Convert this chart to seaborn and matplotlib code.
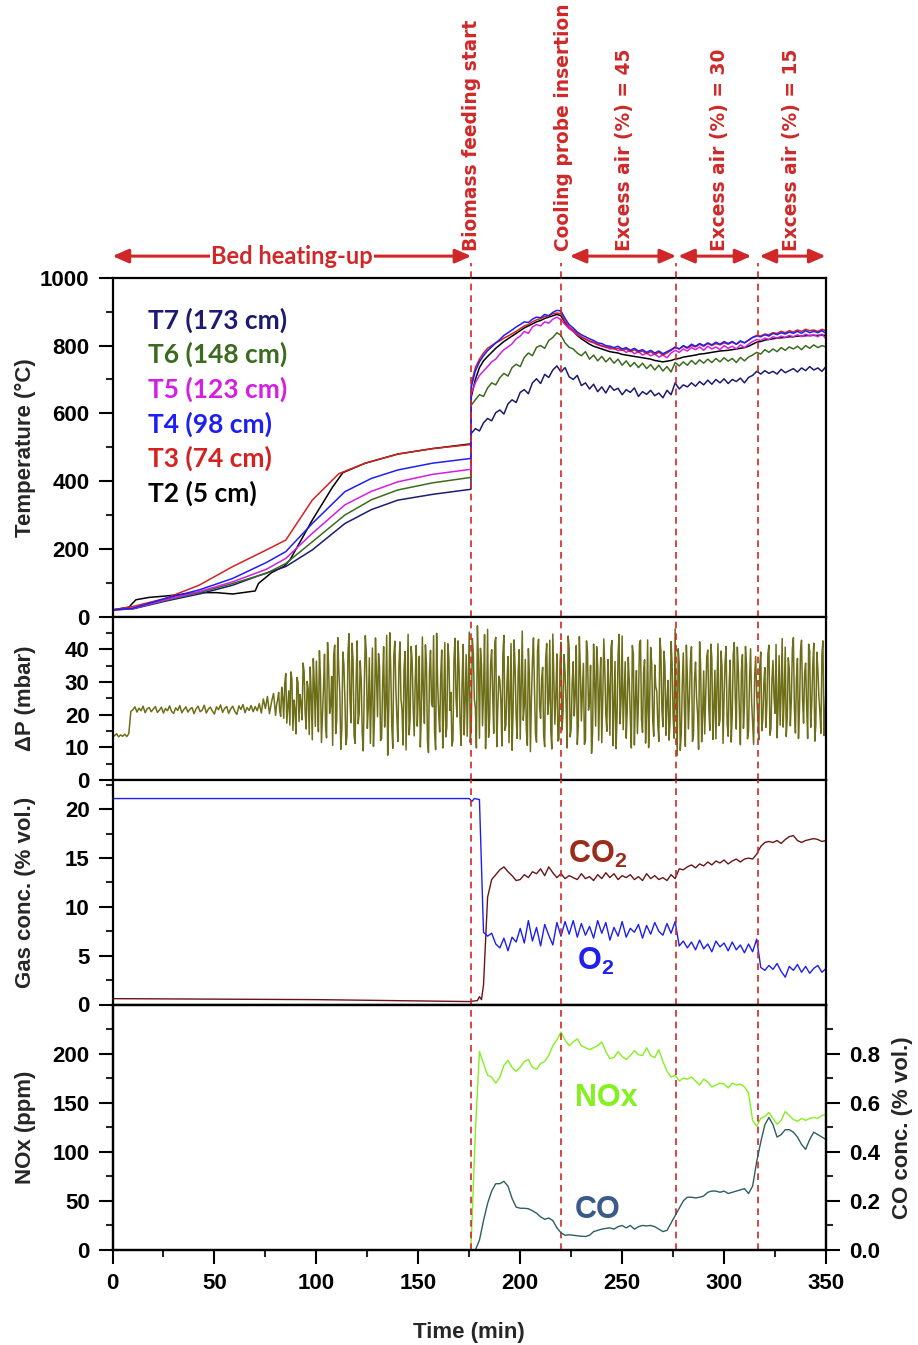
import numpy as np
import pandas as pd
import matplotlib
matplotlib.use("Agg")
import matplotlib.pyplot as plt
import matplotlib.transforms as mtransforms
import seaborn as sns

# ---------------- data ----------------
# temperatures before biomass feeding (own sample times, min)
t2_pre_t = [0, 8, 11.5, 18, 26, 42, 51, 59, 70, 71.6, 78, 84, 87, 98, 108, 113, 124, 140, 157, 175.8]
t2_pre = [20, 28, 50, 57, 61, 71, 71, 67, 76, 98, 130, 148, 167, 285, 383, 425, 453, 480, 496, 510]
t3_pre_t = [0, 10, 26, 42.5, 59, 75.5, 85, 98, 111, 124, 140, 157, 175.8]
t3_pre = [20, 30, 54, 93, 148, 197, 226, 344, 422, 453, 480, 496, 508]
t4_pre_t = [0, 10, 26, 42.5, 59, 75.5, 85, 98, 114, 127, 140, 157, 175.8]
t4_pre = [20, 25, 54, 79, 113, 160, 192, 275, 369, 408, 433, 453, 467]
t5_pre_t = [0, 10, 26, 42.5, 59, 75.5, 85, 98, 114, 127, 140, 157, 175.8]
t5_pre = [20, 24, 50, 74, 103, 140, 172, 246, 330, 370, 398, 420, 435]
t6_pre_t = [0, 10, 26, 42.5, 59, 75.5, 85, 98, 114, 127, 140, 157, 175.8]
t6_pre = [20, 24, 48, 71, 98, 128, 157, 221, 300, 345, 374, 395, 411]
t7_pre_t = [0, 10, 26, 42.5, 59, 72.6, 85, 98, 114, 127, 140, 157, 175.8]
t7_pre = [20, 23, 46, 67, 93, 123, 148, 197, 275, 316, 344, 361, 376]

# temperatures after feeding start, every 2 min from 176 min
post_t0 = 176
t7_post = [541, 555, 548, 572, 585, 578, 602, 610, 598, 628, 640, 632, 662, 670, 658, 690, 702, 688, 715, 706,
           728, 740, 722, 735, 708, 700, 712, 682, 690, 672, 686, 664, 678, 660, 682, 668, 674, 655, 670, 662,
           675, 650, 664, 656, 668, 652, 660, 646, 668, 655, 690, 672, 684, 678, 690, 680, 694, 684, 698, 686,
           700, 690, 702, 688, 700, 694, 704, 690, 706, 712, 724, 716, 726, 718, 724, 716, 730, 720, 726, 732,
           722, 734, 726, 738, 728, 734, 724, 738]
t6_post = [624, 640, 655, 650, 675, 690, 684, 705, 718, 710, 735, 745, 738, 765, 778, 770, 795, 800, 792, 815,
           824, 838, 830, 808, 795, 790, 778, 770, 782, 760, 772, 755, 768, 752, 764, 748, 760, 742, 755, 738,
           750, 735, 748, 732, 744, 728, 742, 725, 738, 722, 750, 740, 752, 742, 756, 745, 758, 748, 760, 750,
           762, 752, 764, 754, 762, 750, 765, 755, 766, 772, 780, 775, 788, 780, 790, 782, 794, 786, 796, 790,
           798, 788, 800, 792, 802, 794, 800, 796]
t5_post = [659, 690, 712, 725, 738, 752, 760, 775, 788, 796, 805, 820, 828, 842, 836, 855, 862, 858, 870, 866,
           878, 884, 876, 862, 850, 842, 832, 825, 818, 812, 808, 802, 798, 795, 790, 792, 785, 788, 780, 786,
           776, 782, 772, 778, 770, 775, 766, 772, 764, 778, 786, 780, 790, 784, 794, 788, 796, 786, 798, 790,
           796, 788, 800, 792, 798, 790, 802, 794, 804, 812, 818, 815, 822, 818, 826, 822, 828, 824, 830, 826,
           832, 826, 834, 828, 832, 826, 834, 820]
t4_post = [678, 725, 752, 770, 785, 796, 808, 818, 830, 838, 846, 855, 862, 870, 868, 878, 884, 882, 892, 888,
           898, 904, 902, 880, 862, 852, 840, 832, 826, 820, 815, 808, 806, 800, 798, 794, 798, 790, 794, 786,
           792, 784, 788, 780, 786, 778, 784, 776, 782, 788, 796, 790, 800, 794, 804, 798, 806, 800, 808, 802,
           810, 804, 812, 806, 812, 804, 814, 808, 816, 824, 828, 826, 832, 828, 836, 832, 838, 834, 840, 836,
           842, 836, 844, 838, 842, 838, 844, 836]
t3_post = [688, 735, 760, 778, 792, 800, 808, 814, 822, 828, 835, 842, 850, 858, 862, 870, 876, 880, 886, 888,
           894, 896, 894, 872, 855, 846, 835, 826, 820, 814, 810, 804, 800, 796, 794, 790, 792, 786, 790, 782,
           788, 780, 784, 776, 782, 774, 780, 772, 778, 786, 794, 790, 798, 792, 800, 796, 804, 798, 806, 800,
           806, 802, 808, 804, 810, 804, 812, 808, 816, 824, 830, 828, 834, 832, 838, 836, 842, 838, 844, 840,
           846, 842, 848, 844, 846, 842, 848, 844]
t2_post = [649, 700, 735, 755, 768, 780, 792, 802, 812, 820, 828, 836, 844, 852, 858, 864, 870, 874, 880, 884,
           888, 892, 888, 868, 852, 842, 830, 820, 812, 804, 798, 794, 790, 786, 782, 780, 778, 774, 772, 770,
           768, 766, 764, 762, 760, 756, 754, 752, 754, 756, 760, 762, 766, 768, 770, 772, 775, 776, 778, 780,
           782, 784, 785, 786, 788, 790, 792, 794, 798, 804, 810, 812, 816, 818, 820, 822, 823, 824, 826, 826,
           828, 828, 829, 830, 830, 830, 831, 830]

# pressure drop, one reading per minute from 0 min
dp_vals = [14, 13.5, 14.2, 13.2, 13.8, 13.4, 14, 13.3, 14.2, 21,
           21.5, 22.4, 20.8, 22, 21.2, 22.6, 20.6, 21.8, 22.2, 20.9,
           21.7, 22.5, 20.7, 21.4, 22.3, 20.5, 21.9, 21.2, 22.7, 21,
           20.4, 22.1, 21.3, 22.8, 20.6, 21.6, 22.4, 20.8, 21.7, 22.2,
           20.3, 21.8, 22.6, 20.9, 21.4, 22.9, 20.5, 21.7, 22.3, 21.1,
           20.2, 22.4, 21.5, 23, 20.7, 21.9, 22.5, 20.4, 21.8, 22.6,
           21, 20.1, 22.7, 21.6, 23.1, 20.6, 22.2, 21.3, 22.8, 20.9,
           22.5, 21.2, 23.4, 20.5, 24.8, 21.9, 25.6, 20.3, 23.9, 26.5,
           19.8, 24.6, 21.2, 28.4, 18.9, 32.6, 22.4, 16.8, 30.9, 24.5,
           14.1, 29.8, 26.2, 18.4, 33.2, 15.6, 27.8, 34.6, 12.3, 28.9,
           36.4, 14.8, 31.2, 19.6, 38.5, 12.9, 35.1, 22.8, 10.6, 41.3,
           18.2, 33.7, 9.4, 39.2, 24.6, 13.3, 44.8, 17.5, 36.9, 11.2,
           42.6, 20.3, 30.8, 8.9, 44.2, 15.8, 37.4, 26.1, 10.3, 43.5,
           19.4, 34.6, 12.7, 40.8, 23.5, 7.6, 45.1, 16.4, 38.2, 27.9,
           11.8, 42.3, 21.6, 33.9, 9.2, 44.6, 18.7, 36.5, 13.5, 41.2,
           25.8, 10.1, 43.8, 17.3, 35.6, 8.4, 39.7, 22.4, 14.6, 44.9,
           20.5, 31.8, 9.8, 42.1, 16.2, 37.3, 26.8, 12.1, 43.4, 19.3,
           34.7, 10.6, 41.5, 24.2, 13.4, 45.3, 15.9, 38.8, 22.1, 47.2,
           12.8, 35.4, 27.3, 9.6, 46.1, 18.5, 39.9, 14.3, 43.7, 21.8,
           30.6, 10.4, 44.3, 16.7, 37.8, 25.4, 9.1, 42.9, 19.6, 33.2,
           12.5, 45.6, 22.7, 15.3, 40.2, 8.7, 36.4, 27.8, 11.6, 43.1,
           18.9, 34.5, 10.2, 41.8, 24.3, 14.8, 44.7, 17.1, 38.6, 12.4,
           42.2, 20.6, 32.9, 9.8, 40.5, 15.7, 36.2, 26.4, 10.9, 43.9,
           18.1, 35.7, 12.3, 39.4, 23.6, 8.2, 41.6, 16.5, 34.8, 28.7,
           11.4, 43.2, 19.8, 36.9, 13.7, 42.7, 22.5, 9.6, 38.3, 17.2,
           44.1, 25.9, 12.8, 37.6, 19.3, 41.2, 10.7, 33.5, 24.1, 42.8,
           14.6, 36.8, 21.3, 9.9, 40.6, 18.4, 35.2, 27.1, 11.8, 39.7,
           16.3, 34.9, 23.8, 12.2, 42.4, 19.5, 46.3, 7.5, 35.6, 14.1,
           38.9, 10.3, 31.6, 24.7, 40.8, 13.9, 36.1, 20.2, 42.3, 11.7,
           33.4, 26.5, 39.8, 15.2, 37.3, 21.9, 12.6, 41.7, 18.3, 34.5,
           25.2, 40.9, 13.4, 36.7, 19.9, 42.1, 15.6, 33.8, 10.8, 38.4,
           22.6, 35.3, 14.9, 40.2, 17.7, 31.5, 26.3, 12.3, 39.2, 18.6,
           34.4, 23.1, 41.3, 15.8, 36.6, 20.4, 12.9, 38.1, 27.6, 16.2,
           40.7, 19.1, 33.9, 24.5, 43.6, 14.4, 37.2, 21.7, 42.8, 17.4,
           35.8, 12.7, 39.5, 23.3, 41.9, 16.9, 34.1, 20.8, 38.7, 13.6,
           29.4]
# extra readings on the half minute once the bed starts bubbling (from 80.5 min)
dp_half_t0 = 80.5
dp_half = [23.1, 26.8, 19.5, 25.2, 29.7, 17.4, 27.3, 33.1, 15.2, 21.6,
           31.4, 17.9, 23.5, 35.8, 20.7, 30.2, 13.9, 25.6, 37.2, 16.4,
           24.9, 39.6, 11.5, 28.3, 16.8, 42.1, 20.4, 31.7, 38.2, 14.2,
           43.6, 26.7, 15.9, 35.4, 10.8, 38.6, 24.1, 41.9, 13.6, 30.4,
           17.2, 36.5, 14.3, 27.9, 39.1, 22.6, 11.2, 40.4, 18.7, 32.3,
           38.7, 12.1, 29.5, 16.2, 44.3, 21.8, 33.6, 9.7, 42.5, 19.1,
           35.2, 24.8, 10.7, 39.3, 27.4, 13.8, 40.9, 22.1, 30.6, 16.5,
           37.9, 19.8, 27.2, 41.4, 11.9, 33.1, 23.7, 44.2, 9.3, 29.8,
           14.7, 39.8, 23.9, 13.2, 41.7, 21.3, 10.4, 36.6, 25.1, 42.6,
           17.6, 30.2, 13.8, 38.4, 28.9, 11.5, 43.3, 24.7, 9.8, 36.1,
           40.3, 16.6, 44.5, 21.2, 13.1, 35.9, 25.6, 42.1, 10.2, 31.8,
           24.3, 38.7, 15.2, 29.6, 11.4, 41.8, 20.9, 34.2, 12.7, 39.9,
           28.6, 18.3, 36.9, 10.6, 32.4, 24.8, 43.5, 14.1, 39.6, 22.3,
           30.9, 13.6, 37.2, 20.1, 42.8, 9.5, 31.4, 26.2, 11.9, 35.6,
           15.3, 38.4, 23.5, 44.1, 13.2, 29.8, 19.6, 41.2, 16.4, 33.7,
           27.3, 10.9, 42.6, 21.4, 35.1, 14.6, 29.7, 40.8, 12.2, 37.5,
           24.6, 33.8, 14.9, 28.2, 40.4, 10.5, 36.3, 19.1, 44.6, 25.3,
           15.4, 36.2, 21.7, 30.1, 9.8, 38.5, 24.3, 14.2, 41.7, 18.5,
           32.8, 11.3, 42.9, 24.2, 35.7, 13.4, 28.6, 16.9, 43.4, 21.6,
           39.4, 13.7, 30.5, 17.8, 35.9, 12.8, 24.6, 40.2, 9.1, 29.3,
           22.7, 41.3, 15.6, 36.8, 11.8, 30.9, 25.4, 9.4, 34.7, 20.3,
           14.1, 37.7, 22.2, 41.6, 12.4, 33.6, 28.3, 16.7, 39.5, 11.2,
           36.2, 17.4, 29.1, 11.6, 38.3, 24.8, 40.7, 21.3, 33.5, 15.8,
           40.9, 12.6, 31.1, 24.2, 10.9, 37.8, 19.8, 34.6, 15.1, 29.5,
           16.1, 38.6, 13.7, 30.8, 25.3, 41.5, 22.4, 16.8, 43.3, 25.8,
           13.3, 37.4, 16.6, 40.1, 21.9, 31.2, 12.7, 39.6, 24.5, 32.8,
           22.6, 41.6, 16.1, 34.8, 11.9, 39.1, 25.7, 14.3, 42.6, 19.2]

# gas concentrations (% vol.)
o2_pre_t = [0, 175, 176.3, 177.5, 180, 182]
o2_pre = [21.1, 21.1, 20.8, 21.1, 21.0, 7.4]
o2_post_t0 = 184
o2_post = [7.0, 7.3, 6.2, 5.8, 6.8, 5.5, 6.9, 6.4, 7.8, 6.3, 8.6, 6.5, 7.9, 6.0, 8.2, 7.1, 6.1, 8.4, 7.0, 8.5,
           7.2, 8.6, 6.9, 8.3, 7.1, 8.0, 6.8, 8.6, 7.3, 8.4, 6.6, 7.9, 7.0, 8.5, 6.9, 7.8, 7.4, 8.2, 6.8, 8.1,
           7.2, 8.4, 7.5, 7.1, 8.3, 7.3, 8.5, 6.0, 6.5, 5.8, 6.4, 5.6, 6.6, 5.7, 6.2, 5.4, 6.5, 5.9, 6.3, 5.5,
           6.4, 5.6, 6.1, 5.3, 6.2, 5.4, 6.7, 3.8, 3.5, 4.0, 3.6, 4.2, 3.4, 2.8, 3.9, 3.5, 4.1, 3.3, 3.9, 3.2,
           3.7, 4.0, 3.3, 3.7]
co2_pre_t = [0, 100, 175, 179, 180, 181, 182, 184, 186]
co2_pre = [0.6, 0.5, 0.3, 0.4, 0.8, 0.5, 2.0, 11.0, 12.8]
co2_post_t0 = 188
co2_post = [13.3, 13.8, 14.1, 13.6, 13.2, 12.7, 12.8, 13.3, 13.0, 13.6, 13.4, 13.9, 13.2, 14.1, 13.5, 13.0,
            13.4, 12.9, 13.2, 13.0, 12.8, 13.4, 12.9, 13.1, 12.7, 13.3, 12.9, 13.5, 13.0, 13.4, 12.8, 13.2,
            13.0, 13.3, 12.8, 13.1, 12.7, 13.4, 12.9, 13.2, 12.8, 13.0, 12.7, 13.3, 12.9, 13.9, 13.8, 14.1,
            14.3, 14.0, 14.4, 14.2, 14.6, 14.3, 14.7, 14.5, 14.8, 14.4, 14.7, 14.9, 14.6, 14.9, 15.0, 14.9,
            15.4, 16.2, 16.6, 16.7, 16.6, 16.8, 16.5, 16.9, 17.2, 17.3, 16.8, 16.6, 16.8, 16.9, 17.0, 16.9,
            16.7, 16.8]

# NOx (ppm) and CO (% vol.)
nox_pre_t = [0, 175.8, 178, 180]
nox_pre = [0, 0, 120, 202]
nox_post_t0 = 182
nox_post = [190, 178, 176, 170, 176, 188, 193, 186, 182, 186, 192, 194, 186, 184, 190, 192, 198, 208, 214, 222,
            214, 208, 212, 215, 208, 206, 204, 206, 208, 212, 202, 195, 196, 202, 197, 194, 198, 203, 199, 198,
            206, 198, 196, 204, 192, 182, 176, 178, 172, 175, 174, 176, 172, 168, 174, 171, 166, 168, 170, 169,
            165, 170, 168, 169, 166, 160, 132, 126, 134, 136, 140, 134, 128, 132, 141, 137, 133, 131, 134, 132,
            134, 135, 134, 137, 138]
co_pre_t = [0, 178]
co_pre = [0, 0]
co_post_t0 = 180
co_post = [0.04, 0.12, 0.19, 0.24, 0.27, 0.27, 0.28, 0.26, 0.21, 0.175, 0.17, 0.17, 0.168, 0.16, 0.15, 0.135,
           0.125, 0.13, 0.12, 0.09, 0.07, 0.06, 0.062, 0.06, 0.058, 0.056, 0.055, 0.06, 0.075, 0.08, 0.085,
           0.088, 0.09, 0.085, 0.095, 0.10, 0.09, 0.10, 0.085, 0.095, 0.10, 0.098, 0.10, 0.095, 0.085, 0.075,
           0.08, 0.11, 0.14, 0.17, 0.20, 0.215, 0.215, 0.212, 0.215, 0.22, 0.235, 0.24, 0.24, 0.235, 0.24,
           0.23, 0.235, 0.24, 0.245, 0.25, 0.23, 0.26, 0.36, 0.44, 0.51, 0.54, 0.51, 0.46, 0.47, 0.49, 0.49,
           0.48, 0.46, 0.43, 0.41, 0.45, 0.48, 0.47, 0.46, 0.45]

events = [176, 220, 276.5, 316.5]
temp_labels = ["T7 (173 cm)", "T6 (148 cm)", "T5 (123 cm)", "T4 (98 cm)", "T3 (74 cm)", "T2 (5 cm)"]
temp_colors = ["#1c1a72", "#3b6b1f", "#d41ee6", "#1e1ef5", "#d42222", "#000000"]


def series(pre_t, pre_v, t0, post_v, step=2.0):
    t = list(pre_t) + list(t0 + step * np.arange(len(post_v)))
    return pd.DataFrame({"t": t, "v": list(pre_v) + list(post_v)})


# ---------------- style ----------------
sns.set_theme(style="ticks")
plt.rcParams["font.family"] = ["Liberation Sans", "DejaVu Sans"]
plt.rcParams["font.weight"] = "bold"
plt.rcParams["axes.labelweight"] = "bold"
plt.rcParams["mathtext.fontset"] = "custom"
plt.rcParams["mathtext.bf"] = "Liberation Sans:bold"
plt.rcParams["mathtext.rm"] = "Liberation Sans:bold"
plt.rcParams["mathtext.default"] = "bf"

red = "#d02828"
tick_fs = 16
lab_fs = 16

fig = plt.figure(figsize=(9.18, 13.45), dpi=100)
L, W = 112.5 / 918, 713.5 / 918
H = 1345.0


def rect(top_px, bot_px):
    return [L, 1 - bot_px / H, W, (bot_px - top_px) / H]


ax_t = fig.add_axes(rect(277.8, 616.7))
ax_p = fig.add_axes(rect(616.7, 780.0))
ax_g = fig.add_axes(rect(780.0, 1004.5))
ax_n = fig.add_axes(rect(1004.5, 1250.0))
ax_c = ax_n.twinx()

# temperature panel
temps = [
    (t7_pre_t, t7_pre, t7_post), (t6_pre_t, t6_pre, t6_post), (t5_pre_t, t5_pre, t5_post),
    (t4_pre_t, t4_pre, t4_post), (t3_pre_t, t3_pre, t3_post), (t2_pre_t, t2_pre, t2_post),
]
order = [5, 0, 1, 2, 4, 3]  # draw black first so coloured lines sit on top
for i in order:
    pt, pv, po = temps[i]
    d = series(pt, pv, post_t0, po)
    sns.lineplot(data=d, x="t", y="v", ax=ax_t, color=temp_colors[i], lw=1.1,
                 estimator=None, sort=False)
for k, (lab, col) in enumerate(zip(temp_labels, temp_colors)):
    ax_t.text(17.4, 875 - k * 102, lab, color=col, fontsize=19, family="Lato",
              fontweight="bold", ha="left", va="center")
ax_t.set_ylim(0, 1000)
ax_t.set_yticks(np.arange(0, 1001, 200))
ax_t.set_yticks(np.arange(100, 1000, 200), minor=True)
ax_t.set_ylabel("Temperature (°C)", fontsize=lab_fs)

# pressure drop panel
dp = pd.concat([
    pd.DataFrame({"t": np.arange(len(dp_vals), dtype=float), "v": dp_vals}),
    pd.DataFrame({"t": dp_half_t0 + np.arange(len(dp_half)), "v": dp_half}),
]).sort_values("t")
sns.lineplot(data=dp, x="t", y="v", ax=ax_p, color="#6e6e18", lw=1.1, estimator=None, sort=False)
ax_p.set_ylim(0, 50)
ax_p.set_yticks([0, 10, 20, 30, 40])
ax_p.set_yticks([5, 15, 25, 35, 45], minor=True)
ax_p.set_ylabel("ΔP (mbar)", fontsize=lab_fs)

# gas panel
o2 = series(o2_pre_t, o2_pre, o2_post_t0, o2_post)
co2 = series(co2_pre_t, co2_pre, co2_post_t0, co2_post)
sns.lineplot(data=co2, x="t", y="v", ax=ax_g, color="#6a1414", lw=1.0, estimator=None, sort=False)
sns.lineplot(data=o2, x="t", y="v", ax=ax_g, color="#1e1ef0", lw=1.0, estimator=None, sort=False)
ax_g.text(223.5, 15.4, "CO$_2$", color="#9a2c1c", fontsize=22, ha="left", va="center")
ax_g.text(228, 4.4, "O$_2$", color="#2020ee", fontsize=22, ha="left", va="center")
ax_g.set_ylim(0, 23)
ax_g.set_yticks([0, 5, 10, 15, 20])
ax_g.set_yticks([2.5, 7.5, 12.5, 17.5, 22.5], minor=True)
ax_g.set_ylabel("Gas conc. (% vol.)", fontsize=lab_fs)

# NOx / CO panel
nox = series(nox_pre_t, nox_pre, nox_post_t0, nox_post)
co = series(co_pre_t, co_pre, co_post_t0, co_post)
sns.lineplot(data=co, x="t", y="v", ax=ax_c, color="#2f5e5e", lw=1.0, estimator=None, sort=False)
sns.lineplot(data=nox, x="t", y="v", ax=ax_n, color="#84f020", lw=1.0, estimator=None, sort=False)
ax_n.text(226.7, 155, "NOx", color="#84f020", fontsize=22, ha="left", va="center")
ax_n.text(226.7, 41, "CO", color="#3a5a8c", fontsize=22, ha="left", va="center")
ax_n.set_ylim(0, 250)
ax_n.set_yticks(np.arange(0, 201, 50))
ax_n.set_yticks(np.arange(25, 250, 50), minor=True)
ax_n.set_ylabel("NOx (ppm)", fontsize=lab_fs)
ax_c.set_ylim(0, 1.0)
ax_c.set_yticks(np.arange(0, 0.81, 0.2))
ax_c.set_yticks(np.arange(0.1, 1.0, 0.2), minor=True)
ax_c.set_yticklabels([f"{v:.1f}" for v in np.arange(0, 0.81, 0.2)])
ax_c.set_ylabel("CO conc. (% vol.)", fontsize=lab_fs)
ax_c.yaxis.set_label_coords(1.093, 0.5)
ax_n.set_xlabel("Time (min)", fontsize=lab_fs, labelpad=20)

# shared axis styling
tick_major = dict(which="major", direction="out", length=10, width=1.5, labelsize=tick_fs,
                  colors="black", pad=6.5)
tick_minor = dict(which="minor", direction="out", length=5, width=1.5)
for ax in [ax_t, ax_p, ax_g, ax_n]:
    ax.set_xlim(0, 350)
    ax.set_xticks(np.arange(0, 351, 50))
    ax.set_xticks(np.arange(25, 350, 50), minor=True)
    for s in ax.spines.values():
        s.set_visible(True)
        s.set_linewidth(1.6)
        s.set_color("black")
    ax.tick_params(**tick_major)
    ax.tick_params(**tick_minor)
    ax.tick_params(axis="x", which="both", top=False)
    ax.tick_params(axis="y", which="both", right=False)
    ax.yaxis.set_label_coords(-0.107, 0.5)
    if ax is not ax_n:
        ax.set_xlabel("")
        ax.tick_params(axis="x", labelbottom=False)
    for e in events:
        ax.axvline(e, color=red, lw=1.2, ls=(0, (4, 3)), zorder=5)
for s in ax_c.spines.values():
    s.set_linewidth(1.6)
    s.set_color("black")
ax_c.tick_params(**tick_major)
ax_c.tick_params(**tick_minor)

# event lines reaching up to the annotation arrows
bt = mtransforms.blended_transform_factory(ax_t.transData, ax_t.transAxes)
for e in events:
    ax_t.plot([e, e], [1.0, 1.045], transform=bt, color=red, lw=1.2, ls=(0, (4, 3)), clip_on=False)

arrow_y = 1.064
spans = [(0, 176, "Bed heating-up"), (224.3, 276.5, None), (277.5, 313.4, None), (317.4, 349.8, None)]
for x0, x1, lab in spans:
    ax_t.annotate("", xy=(x1, arrow_y), xytext=(x0, arrow_y), xycoords=bt, textcoords=bt,
                  arrowprops=dict(arrowstyle="<|-|>,head_length=0.8,head_width=0.35", color=red,
                                  lw=2.2, shrinkA=0, shrinkB=0))
ax_t.text(88, arrow_y, "Bed heating-up", transform=bt, color=red, fontsize=17, family="Lato",
          fontweight="bold", ha="center", va="center",
          bbox=dict(boxstyle="square,pad=0.05", fc="white", ec="none"))

vtexts = [(176.3, "Biomass feeding start"), (221, "Cooling probe insertion"),
          (251.2, "Excess air (%) = 45"), (297.6, "Excess air (%) = 30"), (333.3, "Excess air (%) = 15")]
for x, lab in vtexts:
    ax_t.text(x, 1.078, lab, transform=bt, rotation=90, color=red, fontsize=13.4, family="DejaVu Sans",
              fontweight="bold", ha="center", va="bottom")

fig.savefig("out.png", dpi=100)
